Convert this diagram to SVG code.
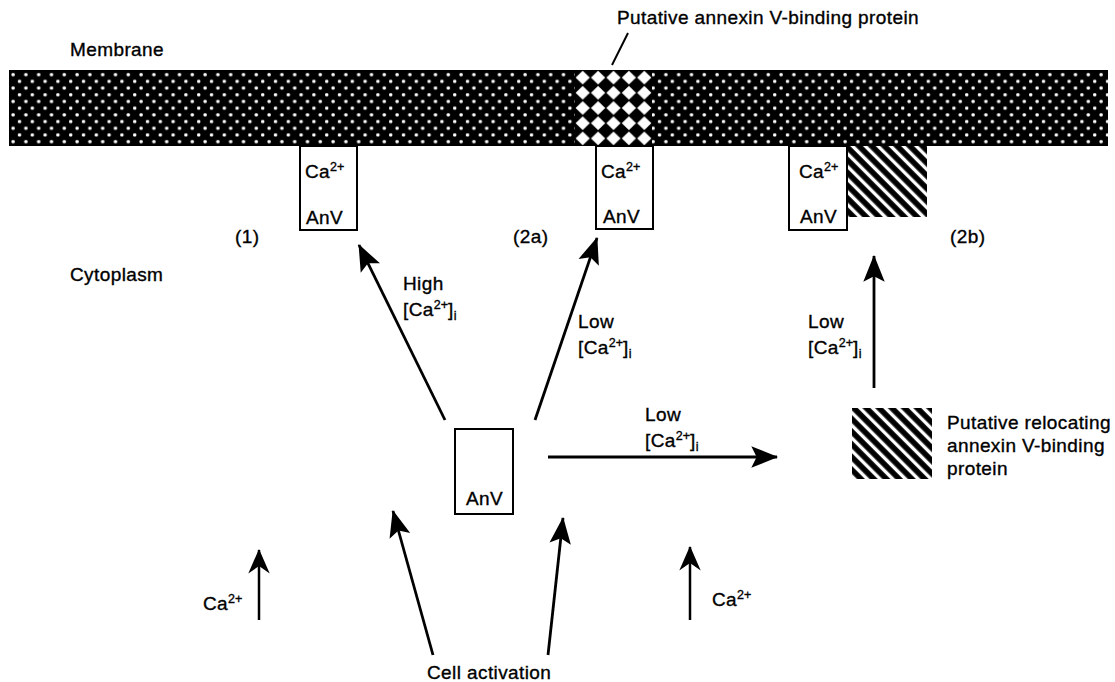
<svg xmlns="http://www.w3.org/2000/svg" width="1115" height="682" viewBox="0 0 1115 682">
<style>
text{font-family:"Liberation Sans",Arial,sans-serif;font-size:19px;fill:#000;stroke:#000;stroke-width:0.35px;letter-spacing:0.4px}
.sup{font-size:12.5px;letter-spacing:0}
.box{fill:#fff;stroke:#000;stroke-width:2}
.arr{stroke:#000;stroke-width:2.8;fill:none;marker-end:url(#ah)}
.arr2{stroke:#000;stroke-width:2.5;fill:none;marker-end:url(#ah2)}
</style>
<defs>
<pattern id="dots" patternUnits="userSpaceOnUse" width="12.8" height="13.4" x="9" y="70">
<rect width="12.8" height="13.4" fill="#000"/>
<rect x="2.5" y="3" width="3.2" height="3.2" rx="1" fill="#fff"/>
<rect x="8.9" y="9.7" width="3.2" height="3.2" rx="1" fill="#fff"/>
</pattern>
<pattern id="check" patternUnits="userSpaceOnUse" width="15.4" height="15.2" x="575" y="70">
<rect width="15.4" height="15.2" fill="#000"/>
<polygon points="7.7,0.6 14.8,7.6 7.7,14.6 0.6,7.6" fill="#fff"/>
</pattern>
<pattern id="hatch" patternUnits="userSpaceOnUse" width="9" height="9" patternTransform="rotate(45)">
<rect width="9" height="9" fill="#000"/>
<rect y="2.7" width="9" height="3.4" fill="#fff"/>
</pattern>
<marker id="ah" markerUnits="userSpaceOnUse" markerWidth="30" markerHeight="30" viewBox="-26 -12 28 24" refX="0" refY="0" orient="auto">
<path d="M1,0 L-24,-10 L-19,0 L-24,10 Z" fill="#000"/>
</marker>
<marker id="ah2" markerUnits="userSpaceOnUse" markerWidth="30" markerHeight="30" viewBox="-26 -12 28 24" refX="0" refY="0" orient="auto">
<path d="M1,0 L-22,-10 L-15,0 L-22,10 Z" fill="#000"/>
</marker>
</defs>

<g id="membrane">
<rect x="9" y="70" width="1099" height="76" fill="url(#dots)"/>
<rect x="575" y="70" width="77" height="76" fill="url(#check)"/>
<text x="70" y="56">Membrane</text>
</g>

<g id="binding-protein-label">
<line x1="612" y1="65" x2="628" y2="33" stroke="#000" stroke-width="2"/>
<text x="617" y="24">Putative annexin V-binding protein</text>
</g>

<g id="cytoplasm-label"><text x="70" y="281">Cytoplasm</text></g>

<g id="node-1">
<rect class="box" x="300" y="146" width="57" height="84"/>
<text x="305" y="178">Ca<tspan class="sup" dy="-7">2+</tspan></text>
<text x="306" y="224">AnV</text>
<text x="235" y="243">(1)</text>
</g>

<g id="node-2a">
<rect class="box" x="596" y="146" width="57" height="83"/>
<text x="601" y="178">Ca<tspan class="sup" dy="-7">2+</tspan></text>
<text x="603" y="223">AnV</text>
<text x="513" y="243">(2a)</text>
</g>

<g id="node-2b">
<rect class="box" x="789" y="146" width="58" height="84"/>
<rect x="848" y="146" width="79" height="71" fill="url(#hatch)"/>
<text x="799" y="178">Ca<tspan class="sup" dy="-7">2+</tspan></text>
<text x="800" y="223">AnV</text>
<text x="950" y="243">(2b)</text>
</g>

<g id="node-anv">
<rect class="box" x="455" y="429" width="58" height="85"/>
<text x="466" y="505">AnV</text>
</g>

<g id="node-relocating">
<rect x="852" y="408" width="80" height="71" fill="url(#hatch)"/>
<text x="947" y="429">Putative relocating</text>
<text x="947" y="452">annexin V-binding</text>
<text x="947" y="475">protein</text>
</g>

<g id="connectors">
<line class="arr" x1="445" y1="420" x2="359" y2="245"/>
<line class="arr" x1="535" y1="420" x2="597" y2="238"/>
<line class="arr" x1="548" y1="457" x2="777" y2="457"/>
<line class="arr" x1="874" y1="388" x2="874" y2="256"/>
<line class="arr" x1="433" y1="655" x2="393" y2="511"/>
<line class="arr" x1="548" y1="655" x2="563" y2="518"/>
<line class="arr2" x1="259" y1="620" x2="259" y2="550"/>
<line class="arr2" x1="690" y1="620" x2="690" y2="547"/>
</g>

<g id="labels">
<text x="403" y="290">High</text>
<text x="403" y="316">[Ca<tspan class="sup" dy="-7">2+</tspan><tspan dy="7">]</tspan><tspan class="sup" dy="4">i</tspan></text>
<text x="578" y="328">Low</text>
<text x="578" y="354">[Ca<tspan class="sup" dy="-7">2+</tspan><tspan dy="7">]</tspan><tspan class="sup" dy="4">i</tspan></text>
<text x="645" y="421">Low</text>
<text x="645" y="447">[Ca<tspan class="sup" dy="-7">2+</tspan><tspan dy="7">]</tspan><tspan class="sup" dy="4">i</tspan></text>
<text x="808" y="328">Low</text>
<text x="808" y="354">[Ca<tspan class="sup" dy="-7">2+</tspan><tspan dy="7">]</tspan><tspan class="sup" dy="4">i</tspan></text>
<text x="203" y="610">Ca<tspan class="sup" dy="-7">2+</tspan></text>
<text x="712" y="606">Ca<tspan class="sup" dy="-7">2+</tspan></text>
<text x="427" y="679">Cell activation</text>
</g>
</svg>
